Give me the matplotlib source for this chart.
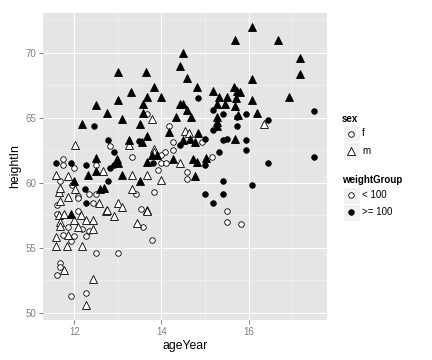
import matplotlib
matplotlib.use('Agg')
from matplotlib import pyplot as plt
from matplotlib.patches import Rectangle
from matplotlib.lines import Line2D

plt.rcParams['font.family'] = ['Liberation Sans', 'DejaVu Sans']

# girls, weight < 100
f_light_age = [11.60, 11.60, 11.60, 12.09, 11.85, 12.18, 12.34, 11.75, 12.00, 12.26,
               11.92, 13.58, 12.51, 13.01, 11.67, 11.67, 12.26, 11.92, 12.82, 11.75,
               11.75, 12.00, 13.33, 12.51, 11.67, 11.94, 12.34, 12.49, 13.41, 12.09,
               12.09, 12.44, 13.53, 13.67, 14.18, 14.26, 14.92, 14.26, 14.08, 13.98,
               15.17, 14.00, 14.10, 13.93, 14.59, 14.59, 13.83, 15.51, 15.51, 13.78,
               15.82]
f_light_height = [58.3, 52.9, 57.6, 57.8, 56.6, 56.4, 56.3, 56.0, 55.9, 55.9,
                  55.5, 56.6, 54.6, 54.6, 53.8, 53.5, 51.5, 51.3, 62.8, 61.8,
                  61.4, 61.1, 62.0, 61.4, 60.1, 59.8, 59.1, 59.1, 59.1, 59.0,
                  58.8, 58.4, 58.0, 65.3, 64.4, 63.1, 63.1, 62.5, 62.4, 62.1,
                  62.0, 61.5, 61.5, 61.0, 60.8, 60.3, 59.3, 57.8, 57.0, 55.6,
                  56.8]

# girls, weight >= 100
f_heavy_age = [11.58, 12.77, 13.49, 11.92, 12.92, 12.92, 12.26, 12.83, 12.78, 12.25,
               12.26, 14.84, 15.19, 15.42, 15.19, 15.74, 15.74, 15.00, 14.42, 15.51,
               15.42, 15.33, 13.81, 15.00, 15.42, 15.00, 15.42, 15.19, 15.93, 17.50,
               16.44, 15.93, 15.93, 17.50, 16.44, 16.08, 12.45]
f_heavy_height = [61.5, 63.3, 63.2, 61.5, 62.4, 61.4, 61.4, 61.1, 60.1, 59.5,
                  58.4, 66.5, 65.6, 65.3, 64.1, 65.1, 64.4, 63.4, 62.9, 63.4,
                  63.3, 62.4, 61.5, 61.4, 60.1, 59.1, 59.1, 58.4, 65.3, 65.5,
                  64.8, 63.3, 62.5, 62.0, 61.5, 59.8, 64.4]

# boys, weight < 100
m_light_age = [11.58, 11.66, 11.64, 11.58, 11.77, 12.15, 12.74, 12.92, 11.67, 11.67,
               12.00, 12.26, 12.44, 12.08, 12.44, 11.85, 13.43, 11.58, 11.83, 12.17,
               11.76, 12.44, 12.26, 12.02, 13.25, 12.67, 11.85, 13.33, 11.67, 12.02,
               13.33, 11.85, 11.67, 12.57, 13.00, 12.75, 13.09, 13.78, 14.54, 14.64,
               13.83, 13.83, 14.42, 13.67, 14.00, 13.67, 13.67, 16.36]
m_light_height = [60.6, 59.3, 57.5, 55.8, 57.6, 57.5, 57.8, 57.4, 57.0, 56.7,
                  57.1, 57.1, 57.1, 56.6, 56.4, 56.0, 56.9, 55.1, 55.1, 55.1,
                  53.3, 52.6, 50.6, 62.9, 62.9, 60.9, 60.5, 60.6, 59.6, 59.5,
                  59.5, 58.9, 58.6, 58.4, 58.4, 57.9, 58.1, 64.9, 64.0, 63.8,
                  62.6, 62.4, 61.5, 60.6, 60.2, 57.9, 57.8, 64.5]

# boys, weight >= 100
m_heavy_age = [11.92, 13.25, 12.50, 12.97, 13.01, 12.51, 12.32, 13.09, 13.51, 12.00,
               12.69, 12.59, 15.69, 14.50, 14.42, 14.59, 13.83, 14.82, 13.67, 14.00,
               15.19, 15.66, 15.74, 15.33, 15.51, 15.27, 15.46, 15.72, 13.58, 14.42,
               14.50, 14.58, 15.69, 13.58, 14.33, 14.67, 15.27, 13.51, 15.27, 15.27,
               14.18, 14.84, 13.66, 14.65, 14.50, 14.77, 15.69, 13.55, 13.78, 13.90,
               15.02, 14.26, 14.73, 14.81, 13.66, 14.77, 16.08, 16.68, 17.18, 17.18,
               16.08, 16.92, 16.08, 15.80, 15.76, 16.18,
               13.65, 13.30, 12.50, 13.00, 12.75, 12.17, 13.10, 13.00]
m_heavy_height = [57.6, 63.3, 61.9, 61.8, 61.5, 60.9, 60.6, 60.6, 60.1, 60.1,
                  59.6, 59.5, 71.0, 70.0, 69.0, 68.1, 67.4, 67.4, 66.6, 66.6,
                  67.1, 67.4, 67.1, 66.6, 66.6, 66.1, 66.1, 66.5, 66.1, 66.1,
                  66.1, 65.6, 65.9, 65.4, 65.1, 65.1, 65.1, 64.5, 64.7, 64.4,
                  63.9, 63.8, 63.6, 63.4, 63.3, 63.1, 63.4, 63.1, 62.1, 62.1,
                  61.9, 61.8, 61.8, 61.6, 61.6, 60.5, 72.0, 71.0, 69.6, 68.4,
                  68.0, 66.6, 66.4, 67.0, 65.2, 65.4,
                  68.5, 67.0, 66.0, 66.4, 65.4, 64.5, 64.9, 68.5]

W, H = 432, 360
GREY = '#7F7F7F'


def fpos(x, y):
    # pixel position -> figure fraction
    return x / W, 1 - y / H


fig = plt.figure(figsize=(W / 100, H / 100), dpi=100)
ax = fig.add_axes([43 / W, 1 - 320 / H, (327 - 43) / W, (320 - 13) / H])
ax.set_facecolor('#E5E5E5')
for s in ax.spines.values():
    s.set_visible(False)

lo, hi = 11.58, 17.5
pad = (hi - lo) * 0.05
ax.set_xlim(lo - pad, hi + pad)
lo, hi = 50.5, 72.0
pad = (hi - lo) * 0.05
ax.set_ylim(lo - pad, hi + pad)

ax.set_xticks([12, 14, 16])
ax.set_xticks([13, 15, 17], minor=True)
ax.set_yticks([50, 55, 60, 65, 70])
ax.set_yticks([52.5, 57.5, 62.5, 67.5, 72.5], minor=True)
ax.grid(which='major', color='white', lw=0.8)
ax.grid(which='minor', color='#F2F2F2', lw=0.45)
ax.set_axisbelow(True)
ax.tick_params(which='major', color=GREY, length=3, width=0.7,
               labelcolor=GREY, labelsize=7, pad=2)
ax.tick_params(which='minor', length=0)

ax.set_xlabel('ageYear', fontsize=8.8, labelpad=2)
ax.set_ylabel('heightIn', fontsize=8.8, labelpad=3)

CIRC = dict(marker='o', ms=4.0, mew=0.6, mec='black', ls='none')
TRI = dict(marker='^', ms=5.6, mew=0.6, mec='black', ls='none')

ax.plot(f_light_age, f_light_height, mfc='white', **CIRC)
ax.plot(f_heavy_age, f_heavy_height, mfc='black', **CIRC)
ax.plot(m_light_age, m_light_height, mfc='white', **TRI)
ax.plot(m_heavy_age, m_heavy_height, mfc='black', **TRI)


# legend, drawn by hand to sit like the ggplot guide
def key(y, style, fill, label):
    x0, y0 = fpos(343, y + 8.5)
    fig.patches.append(Rectangle((x0, y0), 16.5 / W, 17 / H, transform=fig.transFigure,
                                 facecolor='#F2F2F2', edgecolor='white', lw=0.8))
    cx, cy = fpos(351, y)
    fig.lines.append(Line2D([cx], [cy], transform=fig.transFigure, mfc=fill, **style))
    tx, ty = fpos(362, y)
    fig.text(tx, ty, label, fontsize=7, va='center', ha='left')


tx, ty = fpos(342, 119)
fig.text(tx, ty, 'sex', fontsize=7, fontweight='bold', va='center')
key(133.5, CIRC, 'white', 'f')
key(151, TRI, 'white', 'm')
tx, ty = fpos(342, 180)
fig.text(tx, ty, 'weightGroup', fontsize=7, fontweight='bold', va='center')
key(195, CIRC, 'white', '< 100')
key(212, CIRC, 'black', '>= 100')

fig.savefig('out.png', dpi=100)
